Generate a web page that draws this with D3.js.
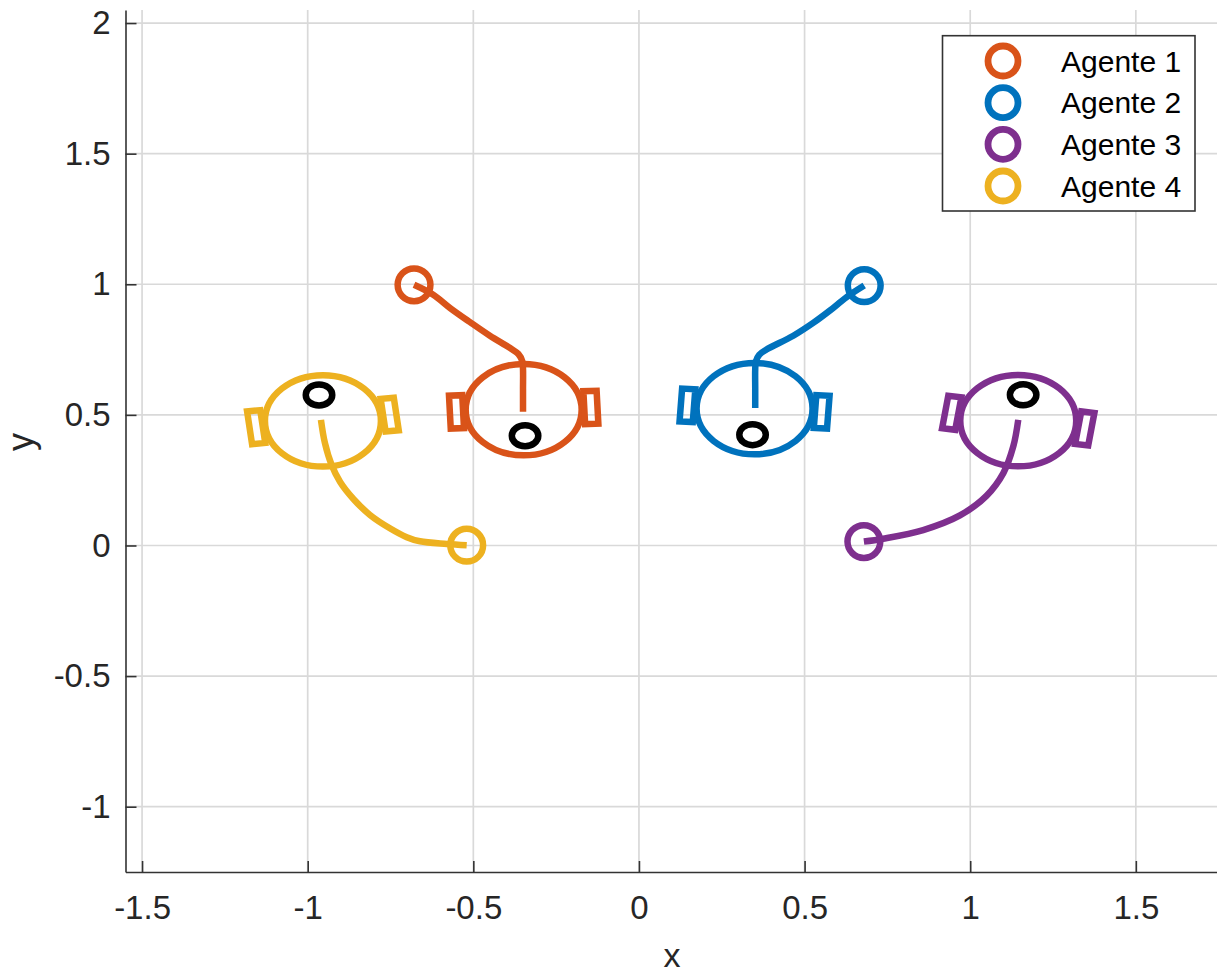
<!DOCTYPE html>
<html>
<head>
<meta charset="utf-8">
<script src="https://cdn.jsdelivr.net/npm/d3@7"></script>
<style>
  html, body { margin: 0; padding: 0; background: #fff; }
  svg { display: block; }
  text { font-family: "Liberation Sans", Arial, sans-serif; }
</style>
</head>
<body>
<div id="chart"></div>
<script>
var agentNames = ['Agente 1', 'Agente 2', 'Agente 3', 'Agente 4'];
var agentColors = ['#D95319', '#0072BD', '#7E2F8E', '#EDB120'];

// trajectories, [x, y]
var path1 = [[-0.679, 0.998], [-0.621, 0.960], [-0.570, 0.909], [-0.510, 0.855], [-0.450, 0.803], [-0.389, 0.756], [-0.364, 0.733], [-0.352, 0.705], [-0.350, 0.675], [-0.350, 0.600], [-0.350, 0.512]];
var path2 = [[0.680, 0.995], [0.627, 0.951], [0.577, 0.900], [0.526, 0.852], [0.466, 0.803], [0.385, 0.750], [0.363, 0.730], [0.353, 0.705], [0.351, 0.675], [0.351, 0.600], [0.351, 0.526]];
var path3 = [[0.679, 0.015], [0.737, 0.026], [0.858, 0.059], [0.969, 0.115], [1.049, 0.190], [1.100, 0.277], [1.130, 0.379], [1.145, 0.481]];
var path4 = [[-0.520, 0.001], [-0.580, 0.006], [-0.661, 0.016], [-0.701, 0.032], [-0.752, 0.066], [-0.812, 0.117], [-0.862, 0.178], [-0.902, 0.243], [-0.928, 0.309], [-0.948, 0.392], [-0.960, 0.481]];
var paths = [path1, path2, path3, path4];

// robot poses at the end: centre x, centre y, heading in degrees
var poseX = [-0.348, 0.349, 1.145, -0.954];
var poseY = [0.520, 0.524, 0.478, 0.477];
var poseHeading = [-87.6, -93.5, 81.5, 96.8];

// robot geometry in data units
var bodyRadius = 0.175;
var eyeOffset = 0.1;
var eyeRadius = 0.04;
var wheelOffset = 0.203;
var wheelHalfLength = 0.063;
var wheelHalfWidth = 0.02;

var xTicks = [-1.5, -1, -0.5, 0, 0.5, 1, 1.5];
var yTicks = [-1, -0.5, 0, 0.5, 1, 1.5, 2];
var xDomain = [-1.55, 1.745];
var yDomain = [-1.25, 2.05];

var width = 1217, height = 974;
var margin = { left: 125.5, right: 0, top: 10, bottom: 102 };

var x = d3.scaleLinear().domain(xDomain).range([margin.left, width - margin.right]);
var y = d3.scaleLinear().domain(yDomain).range([height - margin.bottom, margin.top]);

var svg = d3.select('#chart').append('svg').attr('width', width).attr('height', height);

/* grid */
var grid = svg.append('g').attr('fill', 'none').attr('stroke', '#d9d9d9').attr('stroke-width', 1.7);
grid.selectAll('line.gx').data(xTicks).enter().append('line').attr('class', 'gx')
    .attr('x1', function(d) { return x(d); }).attr('x2', function(d) { return x(d); })
    .attr('y1', y.range()[0]).attr('y2', y.range()[1]);
grid.selectAll('line.gy').data(yTicks).enter().append('line').attr('class', 'gy')
    .attr('y1', function(d) { return y(d); }).attr('y2', function(d) { return y(d); })
    .attr('x1', x.range()[0]).attr('x2', x.range()[1]);

/* axes, inward ticks, no box */
function tickText(d) { return String(d); }

var xAxis = svg.append('g').attr('transform', 'translate(0,' + y.range()[0] + ')')
    .call(d3.axisBottom(x).tickValues(xTicks).tickFormat(tickText).tickSizeInner(-11).tickSizeOuter(0).tickPadding(24));
var yAxis = svg.append('g').attr('transform', 'translate(' + x.range()[0] + ',0)')
    .call(d3.axisLeft(y).tickValues(yTicks).tickFormat(tickText).tickSizeInner(-11).tickSizeOuter(0).tickPadding(15));

[xAxis, yAxis].forEach(function(axis) {
    axis.selectAll('path, line').attr('stroke', '#333').attr('stroke-width', 1.6);
    axis.selectAll('text').attr('fill', '#262626').style('font-size', '33px')
        .style('font-family', '"Liberation Sans", Arial, sans-serif');
});

svg.append('text').attr('x', 672).attr('y', 967).attr('text-anchor', 'middle')
    .attr('fill', '#262626').style('font-size', '34px').text('x');
svg.append('text').attr('transform', 'translate(33,442) rotate(-90)').attr('text-anchor', 'middle')
    .attr('fill', '#262626').style('font-size', '36px').text('y');

/* agents */
var line = d3.line()
    .x(function(d) { return x(d[0]); })
    .y(function(d) { return y(d[1]); })
    .curve(d3.curveCatmullRom.alpha(0.5));

var wheelLine = d3.line()
    .x(function(d) { return x(d[0]); })
    .y(function(d) { return y(d[1]); })
    .curve(d3.curveLinearClosed);

// corners of a wheel, side is -1 for the left one and 1 for the right one
function wheelCorners(i, side) {
    var a = poseHeading[i] * Math.PI / 180;
    var fx = Math.cos(a), fy = Math.sin(a);   // forward
    var sx = fy, sy = -fx;                    // sideways
    return [[-1, -1], [1, -1], [1, 1], [-1, 1]].map(function(c) {
        var along = c[0] * wheelHalfLength;
        var across = side * wheelOffset + c[1] * wheelHalfWidth;
        return [poseX[i] + fx * along + sx * across, poseY[i] + fy * along + sy * across];
    });
}

agentNames.forEach(function(name, i) {
    var g = svg.append('g').attr('fill', 'none').attr('stroke', agentColors[i]);

    g.append('path').attr('d', line(paths[i])).attr('stroke-width', 6.5);

    g.append('ellipse')
        .attr('cx', x(poseX[i])).attr('cy', y(poseY[i]))
        .attr('rx', x(bodyRadius) - x(0)).attr('ry', y(0) - y(bodyRadius))
        .attr('stroke-width', 6.5);

    [-1, 1].forEach(function(side) {
        g.append('path').attr('d', wheelLine(wheelCorners(i, side))).attr('stroke-width', 6.5);
    });

    var a = poseHeading[i] * Math.PI / 180;
    g.append('ellipse')
        .attr('cx', x(poseX[i] + eyeOffset * Math.cos(a)))
        .attr('cy', y(poseY[i] + eyeOffset * Math.sin(a)))
        .attr('rx', x(eyeRadius) - x(0)).attr('ry', y(0) - y(eyeRadius))
        .attr('stroke', '#000').attr('stroke-width', 6.5);

    g.append('circle')
        .attr('cx', x(paths[i][0][0])).attr('cy', y(paths[i][0][1]))
        .attr('r', 16.4).attr('stroke-width', 6.5);
});

/* legend */
var legend = svg.append('g');
legend.append('rect').attr('x', 942.5).attr('y', 35.7).attr('width', 252.5).attr('height', 175.3)
    .attr('fill', '#fff').attr('stroke', '#333').attr('stroke-width', 1.6);

var legendY = d3.scalePoint().domain(agentNames).range([61, 186]);
var rows = legend.selectAll('g.row').data(agentNames).enter().append('g').attr('class', 'row')
    .attr('transform', function(d) { return 'translate(0,' + legendY(d) + ')'; });
rows.append('circle').attr('cx', 1003).attr('r', 15).attr('fill', 'none')
    .attr('stroke', function(d, i) { return agentColors[i]; }).attr('stroke-width', 6.8);
rows.append('text').attr('x', 1061).attr('dy', '0.36em').attr('fill', '#000')
    .style('font-size', '30px').text(function(d) { return d; });
</script>
</body>
</html>
